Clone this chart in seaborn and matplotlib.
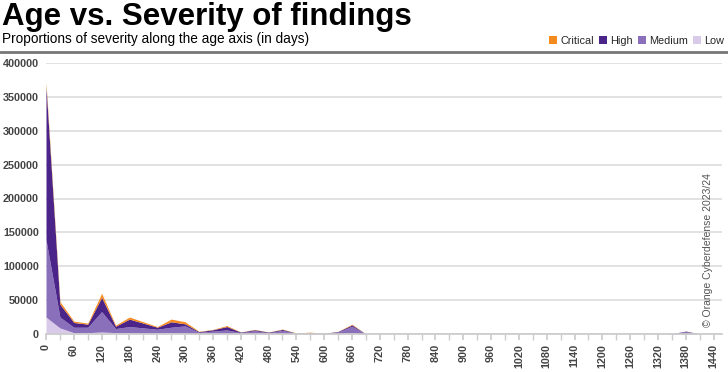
import matplotlib
matplotlib.use("Agg")
import matplotlib.pyplot as plt
from matplotlib.patches import Patch
import seaborn as sns
import numpy as np

days = list(range(0, 1441, 30))
low = [25000, 9000, 2000, 2000, 3000, 2000, 2000, 1500, 1500, 2000, 1500, 500,
       800, 1000, 500, 800, 500, 800, 300, 300, 200, 500, 1500, 0,
       0, 0, 0, 0, 0, 0, 0, 0, 0, 0, 0, 0, 0, 0, 0, 0,
       0, 0, 0, 0, 0, 100, 500, 0, 0]
medium = [114000, 16000, 8000, 8000, 30000, 6000, 9000, 7500, 5500, 8000, 10500, 2000,
          3500, 5000, 1500, 4000, 1500, 4500, 800, 1200, 500, 2500, 10000, 0,
          0, 0, 0, 0, 0, 0, 0, 0, 0, 0, 0, 0, 0, 0, 0, 0,
          0, 0, 0, 0, 0, 300, 3000, 0, 0]
high = [227000, 19000, 7000, 4500, 21000, 3500, 11000, 7000, 3000, 8000, 3000, 1000,
        2000, 5000, 800, 1500, 800, 1500, 200, 500, 200, 800, 2000, 0,
        0, 0, 0, 0, 0, 0, 0, 0, 0, 0, 0, 0, 0, 0, 0, 0,
        0, 0, 0, 0, 0, 100, 800, 0, 0]
critical = [6000, 4000, 2000, 1500, 6000, 1500, 3000, 2000, 1000, 4000, 3000, 500,
            500, 1500, 200, 500, 200, 500, 200, 700, 100, 200, 1000, 0,
            0, 0, 0, 0, 0, 0, 0, 0, 0, 0, 0, 0, 0, 0, 0, 0,
            0, 0, 0, 0, 0, 0, 100, 0, 0]

series_names = ["Low", "Medium", "High", "Critical"]
colors = {"Low": "#d9cae9", "Medium": "#8a6fbb", "High": "#4a2488", "Critical": "#f58a1f"}

sns.set_theme(style="white")
plt.rcParams['font.family'] = ['Liberation Sans', 'DejaVu Sans']

fig = plt.figure(figsize=(7.28, 3.72), dpi=100)
ax = fig.add_axes([46/728, 38/372, 676/728, 271/372])

ax.stackplot(days, low, medium, high, critical,
             colors=[colors[s] for s in series_names], linewidth=0)

ax.set_xlim(0, 1458)
ax.set_ylim(0, 400000)
ax.set_yticks(range(0, 400001, 50000))
ax.set_yticklabels([str(v) for v in range(0, 400001, 50000)])
ax.set_xticks(range(0, 1441, 60))
ax.set_xticklabels([str(v) for v in range(0, 1441, 60)], rotation=90)
ax.set_xticks(range(30, 1441, 60), minor=True)
ax.yaxis.grid(True, color="#dddddd", linewidth=1.2)
ax.set_axisbelow(True)
for s in ["top", "right", "left"]:
    ax.spines[s].set_visible(False)
ax.spines["bottom"].set_color("#cccccc")
ax.tick_params(axis="y", length=0, labelsize=7.8, labelcolor="#444444", pad=5)
ax.tick_params(axis="x", which="both", bottom=True, length=4, color="#cccccc",
               labelsize=7.8, labelcolor="#444444", pad=3)
ax.tick_params(axis="x", which="minor", length=4)
for lab in ax.get_xticklabels() + ax.get_yticklabels():
    lab.set_fontweight("bold")

fig.text(2/728, 1 - 2/372, "Age vs. Severity of findings", fontsize=22.5, fontweight="bold",
         ha="left", va="top", color="#000000")
fig.text(2/728, 1 - 32/372, "Proportions of severity along the age axis (in days)",
         fontsize=9.8, ha="left", va="top", color="#000000")
fig.add_artist(plt.Line2D([0, 1], [1 - 52/372, 1 - 52/372], color="#777777", linewidth=2))

handles = [Patch(facecolor=colors[s], edgecolor="none") for s in ["Critical", "High", "Medium", "Low"]]
fig.legend(handles, ["Critical", "High", "Medium", "Low"], loc="center right",
           bbox_to_anchor=(1 - 3/728, 1 - 41/372), ncol=4, frameon=False, fontsize=7.8,
           handlelength=0.7, handleheight=0.7, handletextpad=0.3, columnspacing=0.5,
           borderaxespad=0, borderpad=0.1)

fig.text(708/728, 1 - 250/372, "© Orange Cyberdefense 2023/24", rotation=90,
         fontsize=7.5, color="#555555", ha="center", va="center")

fig.savefig("out.png", dpi=100)
